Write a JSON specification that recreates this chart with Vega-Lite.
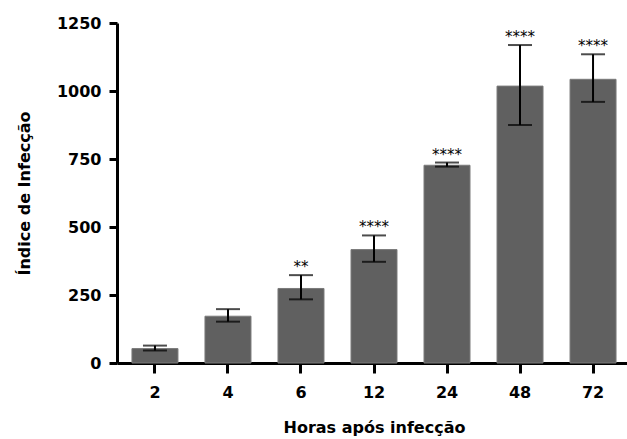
{
  "$schema": "https://vega.github.io/schema/vega-lite/v6.json",
  "autosize": {"type": "none"},
  "padding": {"left": 117, "top": 23, "right": 0, "bottom": 76},
  "width": 514,
  "height": 340,
  "background": "white",
  "config": {
    "view": {"stroke": null},
    "font": "DejaVu Sans"
  },
  "data": {
    "values": [
      {"h": "2", "mean": 53, "lo": 46, "hi": 64, "sig": ""},
      {"h": "4", "mean": 172, "lo": 152, "hi": 198, "sig": ""},
      {"h": "6", "mean": 274, "lo": 234, "hi": 323, "sig": "**"},
      {"h": "12", "mean": 417, "lo": 372, "hi": 469, "sig": "****"},
      {"h": "24", "mean": 727, "lo": 722, "hi": 737, "sig": "****"},
      {"h": "48", "mean": 1018, "lo": 875, "hi": 1169, "sig": "****"},
      {"h": "72", "mean": 1043, "lo": 960, "hi": 1135, "sig": "****"}
    ]
  },
  "encoding": {
    "x": {
      "field": "h",
      "type": "nominal",
      "sort": ["2", "4", "6", "12", "24", "48", "72"],
      "scale": {"paddingInner": 0.37, "paddingOuter": 0.205},
      "axis": {
        "title": "Horas após infecção",
        "labelAngle": 0,
        "labelFont": "DejaVu Sans",
        "labelFontSize": 16,
        "labelFontWeight": "bold",
        "labelColor": "black",
        "labelPadding": 11,
        "tickSize": 10,
        "tickWidth": 3,
        "tickColor": "black",
        "domainWidth": 3,
        "domainColor": "black",
        "titleFont": "DejaVu Sans",
        "titleFontSize": 16,
        "titleFontWeight": "bold",
        "titleColor": "black",
        "titlePadding": 19
      }
    }
  },
  "layer": [
    {
      "mark": {"type": "bar", "color": "#606060", "stroke": "#7a7a7a", "strokeWidth": 1},
      "encoding": {
        "y": {
          "field": "mean",
          "type": "quantitative",
          "scale": {"domain": [0, 1250], "nice": false},
          "axis": {
            "title": "Índice de Infecção",
            "values": [0, 125, 250, 375, 500, 625, 750, 875, 1000, 1125, 1250],
            "format": "d",
            "labelExpr": "datum.value % 250 === 0 ? datum.label : ''",
            "grid": false,
            "labelFont": "DejaVu Sans",
            "labelFontSize": 16,
            "labelFontWeight": "bold",
            "labelColor": "black",
            "labelPadding": 8,
            "tickSize": {"condition": {"test": "datum.value % 250 === 0", "value": 8}, "value": 5},
            "tickWidth": 3,
            "tickColor": "black",
            "domainWidth": 3,
            "domainColor": "black",
            "titleFont": "DejaVu Sans",
            "titleFontSize": 16,
            "titleFontWeight": "bold",
            "titleColor": "black",
            "titlePadding": 24
          }
        }
      }
    },
    {
      "mark": {"type": "rule", "color": "black", "strokeWidth": 2},
      "encoding": {
        "y": {"field": "lo", "type": "quantitative"},
        "y2": {"field": "hi"}
      }
    },
    {
      "mark": {"type": "tick", "color": "black", "thickness": 2, "size": 24},
      "encoding": {"y": {"field": "hi", "type": "quantitative"}}
    },
    {
      "mark": {"type": "tick", "color": "black", "thickness": 2, "size": 24},
      "encoding": {"y": {"field": "lo", "type": "quantitative"}}
    },
    {
      "mark": {"type": "text", "color": "black", "fontSize": 15, "baseline": "alphabetic", "dy": -3, "font": "DejaVu Sans"},
      "encoding": {
        "y": {"field": "hi", "type": "quantitative"},
        "text": {"field": "sig"}
      }
    }
  ]
}
